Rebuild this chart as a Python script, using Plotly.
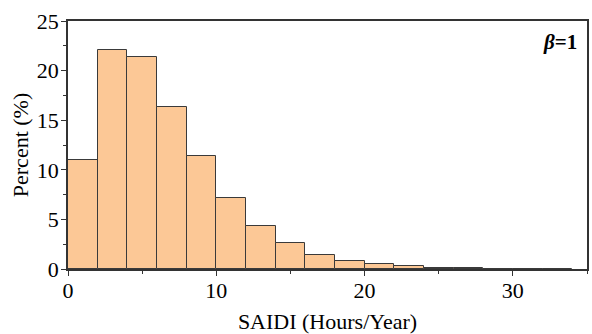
import plotly.graph_objects as go

bin_left = [0, 2, 4, 6, 8, 10, 12, 14, 16, 18, 20, 22, 24, 26, 28, 30, 32]
bin_width = 2
percent = [11.0, 22.05, 21.35, 16.35, 11.4, 7.2, 4.35, 2.6, 1.44, 0.83, 0.47, 0.26, 0.13, 0.07, 0.03, 0.015, 0.01]

centers = [b + bin_width / 2 for b in bin_left]

fig = go.Figure()
fig.add_trace(go.Bar(
    x=centers, y=percent, width=[bin_width] * len(centers),
    marker=dict(color="#FCC896", line=dict(color="#3a3a3a", width=1)),
))

font_family = "Liberation Serif, Times New Roman, serif"
fig.update_layout(
    width=592, height=334,
    margin=dict(l=68, r=3, t=21, b=65),
    plot_bgcolor="white", paper_bgcolor="white",
    showlegend=False, bargap=0,
    font=dict(family=font_family, size=22, color="black"),
    xaxis=dict(range=[0, 35], tickvals=[0, 10, 20, 30], ticks="outside", ticklen=5,
               tickcolor="#333", showline=True, linecolor="#333", linewidth=1.5,
               mirror=True, showgrid=False, zeroline=False, ticklabelstandoff=-4,
               minor=dict(tickvals=[5, 15, 25, 35], ticks="outside", ticklen=3, tickcolor="#333"),
               title=dict(text="SAIDI (Hours/Year)", font=dict(size=22), standoff=12),
               tickfont=dict(size=22)),
    yaxis=dict(range=[0, 25], tickvals=[0, 5, 10, 15, 20, 25], ticks="outside", ticklen=5,
               tickcolor="#333", showline=True, linecolor="#333", linewidth=1.5,
               mirror=True, showgrid=False, zeroline=False, ticklabelstandoff=-2,
               minor=dict(tickvals=[2.5, 7.5, 12.5, 17.5, 22.5], ticks="outside", ticklen=3, tickcolor="#333"),
               title=dict(text="Percent (%)", font=dict(size=22), standoff=2),
               tickfont=dict(size=22)),
    annotations=[dict(x=0.985, y=0.915, xref="paper", yref="paper", xanchor="right", yanchor="middle",
                      text="<b><i>β</i>=1</b>", showarrow=False, font=dict(size=21, family=font_family))],
)

fig.write_html("out.html")
